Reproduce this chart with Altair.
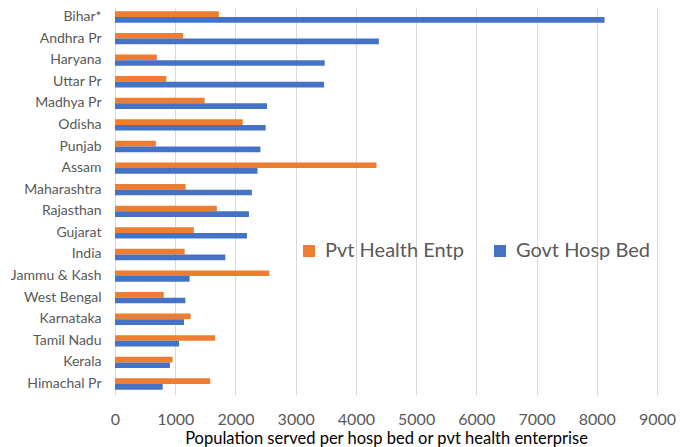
import altair as alt
import pandas as pd

states = ["Bihar*", "Andhra Pr", "Haryana", "Uttar Pr", "Madhya Pr", "Odisha", "Punjab",
          "Assam", "Maharashtra", "Rajasthan", "Gujarat", "India", "Jammu  & Kash",
          "West Bengal", "Karnataka", "Tamil Nadu", "Kerala", "Himachal Pr"]
pvt_health_entp = [1724, 1130, 694, 852, 1489, 2121, 678, 4343, 1173, 1691, 1309, 1157,
                   2562, 809, 1255, 1663, 956, 1582]
govt_hosp_bed = [8129, 4381, 3482, 3472, 2524, 2502, 2415, 2366, 2273, 2224, 2191, 1832,
                 1239, 1168, 1146, 1064, 912, 792]
series_names = ["Pvt Health Entp", "Govt Hosp Bed"]
x_ticks = [0, 1000, 2000, 3000, 4000, 5000, 6000, 7000, 8000, 9000]

rows = []
for s, p, g in zip(states, pvt_health_entp, govt_hosp_bed):
    rows.append({"state": s, "series": series_names[0], "value": p})
    rows.append({"state": s, "series": series_names[1], "value": g})
df = pd.DataFrame(rows)

FONT = "Lato"
GRAY = "#595959"

chart = alt.Chart(df).mark_bar().encode(
    y=alt.Y("state:N", sort=states,
            scale=alt.Scale(range=[-1, 386], paddingInner=0.475),
            axis=alt.Axis(title=None, ticks=False, domain=True, domainColor="#D9D9D9",
                          labelFont=FONT, labelFontSize=14, labelColor=GRAY,
                          labelPadding=14, grid=False, labelOverlap=False)),
    x=alt.X("value:Q", scale=alt.Scale(domain=[0, 9000], nice=False),
            axis=alt.Axis(values=x_ticks, format="d", labelOverlap=False, labelFlush=False,
                          labelBound=False,
                          title="Population served per hosp bed or pvt health enterprise",
                          ticks=False, domain=False, grid=True, gridColor="#D9D9D9", gridWidth=1,
                          labelFont=FONT, labelFontSize=16, labelColor=GRAY, labelPadding=17,
                          titleFont=FONT, titleFontSize=16.5, titleFontWeight="normal",
                          titleColor="#000000", titlePadding=3)),
    yOffset=alt.YOffset("series:N", sort=series_names),
    color=alt.Color("series:N", sort=series_names,
                    scale=alt.Scale(domain=series_names, range=["#ED7D31", "#4472C4"]),
                    legend=alt.Legend(title=None, orient="none", legendX=184, legendY=233,
                                      direction="horizontal", symbolType="square",
                                      symbolSize=144, symbolStrokeWidth=0,
                                      labelFont=FONT, labelFontSize=20, labelColor=GRAY,
                                      columnPadding=26, labelOffset=6)),
).properties(
    width=542, height=386,
    autosize=alt.AutoSizeParams(type="none"),
    padding={"left": 107, "top": 0, "right": 20, "bottom": 53},
).configure_view(stroke=None)

chart.save("out.html", embed_options={"renderer": "svg", "actions": False})
